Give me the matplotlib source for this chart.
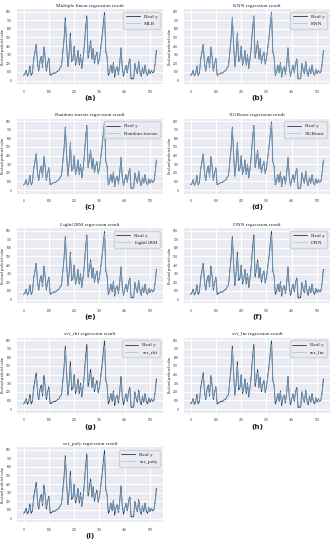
import matplotlib
matplotlib.use("Agg")
import matplotlib.pyplot as plt
import seaborn as sns

# time index (every 5th sample)
t = list(range(0, 530, 5))

real_y = [60, 75, 120, 55, 80, 170, 60, 90, 250, 330,
          420, 200, 110, 230, 280, 150, 390, 280, 110, 200,
          260, 60, 70, 80, 90, 85, 100, 110, 120, 150,
          170, 330, 480, 730, 420, 160, 300, 550, 220, 250,
          400, 180, 230, 350, 180, 300, 140, 250, 400, 600,
          750, 260, 350, 460, 250, 370, 200, 280, 330, 190,
          260, 380, 500, 650, 790, 330, 280, 60, 100, 180,
          90, 210, 40, 130, 160, 70, 200, 380, 150, 50,
          120, 180, 90, 200, 250, 20, 20, 25, 200, 120,
          80, 220, 100, 50, 150, 80, 180, 90, 60, 130,
          80, 120, 90, 100, 200, 350]

pred_mlr = [70, 80, 110, 65, 90, 150, 75, 95, 230, 320,
            400, 215, 120, 215, 270, 160, 370, 290, 125, 190,
            250, 75, 80, 85, 95, 90, 105, 115, 125, 145,
            175, 310, 460, 700, 440, 180, 290, 520, 240, 255,
            380, 195, 235, 335, 195, 290, 155, 245, 385, 570,
            720, 285, 345, 440, 265, 355, 215, 275, 320, 200,
            265, 365, 480, 620, 760, 350, 280, 80, 105, 170,
            100, 200, 60, 130, 155, 80, 195, 360, 165, 65,
            125, 175, 100, 195, 240, 40, 35, 40, 190, 125,
            90, 210, 105, 65, 145, 90, 170, 100, 70, 125,
            90, 120, 95, 105, 190, 330]

pred_knn = [65, 85, 115, 60, 85, 160, 70, 100, 240, 320,
            410, 210, 115, 220, 275, 155, 380, 285, 115, 195,
            255, 70, 75, 80, 90, 90, 100, 110, 120, 150,
            170, 320, 470, 740, 430, 170, 295, 540, 230, 250,
            390, 190, 230, 345, 185, 295, 150, 250, 395, 590,
            745, 270, 350, 450, 255, 365, 205, 280, 325, 195,
            260, 375, 490, 640, 780, 340, 280, 70, 100, 175,
            95, 205, 50, 130, 160, 75, 200, 370, 155, 55,
            120, 180, 95, 200, 245, 30, 25, 30, 195, 120,
            85, 215, 100, 55, 150, 85, 175, 95, 65, 130,
            85, 120, 90, 100, 195, 345]

pred_rf = [62, 78, 118, 58, 84, 165, 64, 92, 245, 325,
           415, 205, 112, 225, 278, 152, 385, 282, 112, 198,
           258, 64, 72, 82, 92, 87, 102, 112, 122, 150,
           172, 325, 475, 720, 425, 165, 298, 545, 225, 250,
           395, 185, 230, 348, 182, 298, 145, 250, 398, 595,
           740, 265, 350, 455, 252, 368, 202, 280, 328, 192,
           260, 378, 495, 645, 775, 335, 280, 65, 100, 178,
           92, 208, 45, 130, 160, 72, 200, 375, 152, 52,
           120, 180, 92, 200, 248, 25, 22, 28, 198, 120,
           82, 218, 100, 52, 150, 82, 178, 92, 62, 130,
           82, 120, 90, 100, 198, 348]

pred_xgb = [64, 80, 116, 60, 86, 162, 66, 94, 242, 322,
            412, 208, 114, 222, 276, 154, 382, 284, 114, 196,
            256, 66, 74, 82, 92, 88, 102, 112, 122, 148,
            172, 322, 472, 725, 428, 168, 296, 542, 228, 250,
            392, 188, 230, 346, 184, 296, 148, 250, 396, 592,
            742, 268, 350, 452, 254, 366, 204, 280, 326, 194,
            260, 376, 492, 642, 778, 338, 280, 68, 100, 176,
            94, 206, 48, 130, 160, 74, 200, 372, 154, 54,
            120, 180, 94, 200, 246, 28, 24, 30, 196, 120,
            84, 216, 100, 54, 150, 84, 176, 94, 64, 130,
            84, 120, 90, 100, 196, 346]

pred_lgbm = [68, 82, 112, 62, 88, 158, 70, 96, 238, 318,
             405, 212, 118, 218, 272, 158, 375, 288, 120, 194,
             252, 70, 78, 84, 94, 90, 104, 114, 124, 146,
             174, 318, 466, 710, 435, 175, 292, 530, 235, 252,
             385, 192, 232, 340, 190, 292, 152, 248, 390, 580,
             730, 278, 348, 445, 260, 360, 210, 278, 322, 198,
             262, 370, 485, 630, 770, 345, 280, 75, 102, 172,
             98, 202, 55, 130, 158, 78, 198, 365, 160, 60,
             122, 178, 98, 198, 242, 35, 30, 35, 192, 122,
             88, 212, 102, 60, 148, 88, 172, 98, 68, 128,
             88, 120, 92, 102, 192, 338]

pred_dnn = [72, 84, 108, 66, 92, 152, 76, 98, 228, 316,
            398, 218, 122, 212, 268, 162, 368, 292, 128, 188,
            248, 78, 82, 86, 96, 92, 106, 116, 126, 144,
            176, 308, 455, 705, 445, 185, 288, 515, 245, 258,
            378, 198, 236, 332, 198, 288, 158, 244, 382, 565,
            715, 290, 342, 435, 268, 352, 218, 274, 318, 202,
            266, 362, 475, 615, 755, 355, 278, 85, 108, 168,
            102, 198, 65, 128, 154, 82, 194, 355, 168, 70,
            126, 174, 102, 194, 236, 45, 40, 45, 186, 126,
            92, 208, 108, 68, 144, 92, 168, 102, 74, 124,
            92, 118, 96, 106, 188, 325]

pred_svr_rbf = [80, 90, 105, 75, 95, 140, 85, 105, 215, 300,
                380, 225, 130, 205, 255, 170, 350, 295, 135, 185,
                240, 85, 85, 90, 95, 95, 105, 115, 125, 140,
                180, 300, 440, 690, 450, 195, 280, 500, 250, 260,
                365, 205, 240, 320, 205, 280, 165, 240, 370, 550,
                700, 300, 340, 425, 275, 345, 225, 270, 310, 210,
                270, 355, 465, 600, 740, 365, 275, 95, 110, 165,
                110, 195, 75, 125, 150, 90, 190, 340, 175, 80,
                125, 170, 105, 190, 230, 55, 50, 55, 180, 130,
                95, 200, 110, 75, 140, 95, 165, 105, 80, 120,
                95, 118, 100, 108, 180, 315]

pred_svr_lin = [74, 86, 106, 68, 94, 148, 78, 100, 224, 312,
                392, 220, 124, 210, 264, 164, 362, 292, 130, 186,
                246, 80, 82, 88, 96, 94, 106, 116, 126, 142,
                178, 304, 450, 698, 446, 188, 286, 510, 246, 258,
                374, 200, 238, 328, 200, 286, 160, 242, 378, 560,
                710, 292, 342, 432, 270, 350, 220, 272, 316, 204,
                268, 360, 472, 610, 750, 358, 278, 88, 108, 168,
                104, 198, 68, 128, 152, 84, 194, 350, 170, 72,
                126, 172, 104, 192, 234, 48, 44, 48, 184, 128,
                92, 206, 108, 70, 142, 94, 168, 104, 76, 122,
                94, 118, 98, 106, 186, 322]

pred_svr_poly = [78, 88, 104, 72, 96, 144, 82, 102, 220, 305,
                 385, 222, 128, 208, 260, 168, 355, 294, 132, 184,
                 244, 82, 84, 88, 96, 94, 106, 116, 126, 142,
                 180, 302, 445, 695, 448, 192, 282, 505, 248, 260,
                 370, 202, 238, 325, 202, 284, 162, 242, 375, 555,
                 705, 295, 340, 430, 272, 348, 222, 272, 312, 206,
                 268, 358, 470, 605, 745, 360, 276, 92, 110, 166,
                 106, 196, 72, 126, 152, 86, 192, 345, 172, 76,
                 124, 172, 104, 192, 232, 52, 48, 52, 182, 128,
                 94, 204, 108, 72, 142, 94, 166, 104, 78, 122,
                 94, 118, 98, 106, 184, 320]

titles = ["Multiple linear", "KNN", "Random forests", "XGBoost", "LightGBM",
          "DNN", "svr_rbf", "svr_lin", "svr_poly"]
legend_names = ["MLR", "KNN", "Random forests", "XGBoost", "LightGBM",
                "DNN", "svr_rbf", "svr_lin", "svr_poly"]
preds = [pred_mlr, pred_knn, pred_rf, pred_xgb, pred_lgbm,
         pred_dnn, pred_svr_rbf, pred_svr_lin, pred_svr_poly]
letters = ["a", "b", "c", "d", "e", "f", "g", "h", "i"]

sns.set_style("darkgrid")
plt.rcParams["font.family"] = ["Liberation Serif", "DejaVu Serif"]

W, H = 334, 550
fig = plt.figure(figsize=(W / 100, H / 100), dpi=100)

col_left = [17, 184]
ax_w = 146
row_top = [9, 118.5, 228, 337.5, 447]
ax_h = 75

for i in range(len(titles)):
    r, c = divmod(i, 2)
    ax = fig.add_axes([col_left[c] / W, 1 - (row_top[r] + ax_h) / H, ax_w / W, ax_h / H])
    ax.plot(t, real_y, color="#25314b", lw=0.6, label="Real y")
    ax.plot(t, preds[i], color="#84bde2", lw=0.45, alpha=0.9, label=legend_names[i])
    ax.set_title(f"{titles[i]} regression result", fontsize=3.8, pad=1.5)
    ax.set_ylabel("Real and predicted value", fontsize=2.6, labelpad=1)
    ax.tick_params(labelsize=2.4, pad=0.6)
    ax.set_xlim(-26, 551)
    ax.set_ylim(-40, 830)
    ax.set_xticks(range(0, 600, 100))
    ax.set_yticks(range(0, 900, 100))
    for s in ax.spines.values():
        s.set_visible(False)
    ax.legend(loc="upper right", fontsize=3.8, handlelength=2.6,
              borderpad=0.5, labelspacing=0.5)
    fig.text((col_left[c] + ax_w / 2) / W, 1 - (row_top[r] + 89) / H,
             f"({letters[i]})", ha="center", va="center", fontsize=5.2,
             fontweight="bold", family=["DejaVu Sans"])

fig.savefig("out.png", dpi=100)
